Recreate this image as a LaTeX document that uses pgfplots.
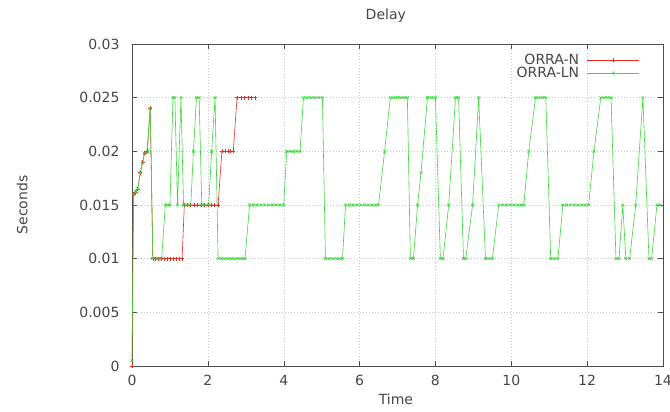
\documentclass[border=0pt]{standalone}
\usepackage{fontspec}
\setmainfont{DejaVu Sans}
\usepackage{pgfplots}
\pgfplotsset{compat=1.18}

\definecolor{orran}{RGB}{235,40,40}
\definecolor{orraln}{RGB}{60,215,60}
\definecolor{labelgray}{RGB}{70,70,70}

\begin{document}
\begin{tikzpicture}
\begin{axis}[
    width=531pt, height=322pt, scale only axis,
    xmin=0, xmax=14, ymin=0, ymax=0.03,
    xtick={0,2,4,6,8,10,12,14},
    ytick={0,0.005,0.01,0.015,0.02,0.025,0.03},
    scaled y ticks=false,
    yticklabel style={/pgf/number format/fixed, /pgf/number format/precision=3, xshift=-9pt},
    xticklabel style={yshift=-6pt},
    /pgf/number format/assume math mode=true,
    tick label style={font=\fontsize{14}{16}\selectfont, text=labelgray},
    label style={font=\fontsize{14}{16}\selectfont, text=labelgray},
    title style={font=\fontsize{14}{16}\selectfont, text=labelgray,
        at={(axis description cs:0.478,1)}, yshift=22pt, anchor=center},
    title={Delay},
    xlabel={Time},
    xlabel style={at={(axis description cs:0.497,0)}, yshift=-33pt, anchor=center},
    ylabel={Seconds},
    ylabel style={at={(axis description cs:-0.207,0.5)}, anchor=center},
    tick pos=both, tick align=inside, major tick length=5pt,
    axis line style={black!70},
    every tick/.style={black!70},
    grid=major,
    major grid style={black!22, dash pattern=on 1pt off 2pt},
    legend style={at={(1,1)}, anchor=north east, xshift=-20pt, yshift=-6pt,
        draw=none, fill=none, font=\fontsize{14}{16}\selectfont,
        row sep=-3pt, column sep=6pt},
    legend cell align=right,
    legend plot pos=right,
    legend image code/.code={\draw[mark repeat=2,mark phase=2] plot coordinates {(0pt,0pt) (26pt,0pt) (52pt,0pt)};},
]
\addplot[orran, line width=0.6pt, mark=+, mark size=2pt] coordinates {
    (0.00,0.0000) (0.04,0.0160) (0.10,0.0162) (0.15,0.0165) (0.22,0.0180)
    (0.28,0.0190) (0.33,0.0198) (0.40,0.0200) (0.48,0.0240) (0.55,0.0100)
    (0.62,0.0100) (0.70,0.0100) (0.78,0.0100) (0.86,0.0100) (0.94,0.0100)
    (1.02,0.0100) (1.10,0.0100) (1.18,0.0100) (1.26,0.0100) (1.32,0.0100)
    (1.38,0.0150) (1.46,0.0150) (1.55,0.0150) (1.64,0.0150) (1.73,0.0150)
    (1.82,0.0150) (1.91,0.0150) (2.00,0.0150) (2.09,0.0150) (2.18,0.0150)
    (2.27,0.0150) (2.37,0.0200) (2.45,0.0200) (2.53,0.0200) (2.60,0.0200)
    (2.67,0.0200) (2.77,0.0250) (2.87,0.0250) (2.97,0.0250) (3.06,0.0250)
    (3.15,0.0250) (3.25,0.0250)
};
\addlegendentry{\textcolor{labelgray}{ORRA-N}}
\addplot[orraln, line width=0.6pt, mark=x, mark size=2pt] coordinates {
    (0.00,0.0005) (0.04,0.0160) (0.10,0.0162) (0.15,0.0165) (0.22,0.0180)
    (0.28,0.0190) (0.33,0.0198) (0.40,0.0200) (0.48,0.0240) (0.55,0.0100)
    (0.62,0.0100) (0.70,0.0100) (0.78,0.0100) (0.88,0.0150) (0.95,0.0150)
    (1.00,0.0150) (1.08,0.0250) (1.13,0.0250) (1.20,0.0150) (1.29,0.0250)
    (1.36,0.0150) (1.45,0.0150) (1.55,0.0150) (1.62,0.0200) (1.70,0.0250)
    (1.77,0.0250) (1.84,0.0150) (1.92,0.0150) (2.02,0.0150) (2.10,0.0200)
    (2.19,0.0250) (2.27,0.0100) (2.36,0.0100) (2.45,0.0100) (2.54,0.0100)
    (2.63,0.0100) (2.72,0.0100) (2.81,0.0100) (2.90,0.0100) (2.98,0.0100)
    (3.10,0.0150) (3.20,0.0150) (3.30,0.0150) (3.40,0.0150) (3.50,0.0150)
    (3.60,0.0150) (3.70,0.0150) (3.80,0.0150) (3.90,0.0150) (4.00,0.0150)
    (4.08,0.0200) (4.17,0.0200) (4.26,0.0200) (4.35,0.0200) (4.43,0.0200)
    (4.52,0.0250) (4.62,0.0250) (4.72,0.0250) (4.82,0.0250) (4.92,0.0250)
    (5.02,0.0250) (5.10,0.0100) (5.20,0.0100) (5.30,0.0100) (5.40,0.0100)
    (5.48,0.0100) (5.55,0.0100) (5.63,0.0150) (5.73,0.0150) (5.83,0.0150)
    (5.93,0.0150) (6.03,0.0150) (6.13,0.0150) (6.23,0.0150) (6.33,0.0150)
    (6.42,0.0150) (6.50,0.0150) (6.66,0.0200) (6.81,0.0250) (6.90,0.0250)
    (7.00,0.0250) (7.09,0.0250) (7.18,0.0250) (7.26,0.0250) (7.34,0.0100)
    (7.42,0.0100) (7.53,0.0150) (7.62,0.0180) (7.79,0.0250) (7.90,0.0250)
    (8.00,0.0250) (8.13,0.0100) (8.20,0.0100) (8.35,0.0150) (8.53,0.0250)
    (8.61,0.0250) (8.74,0.0100) (8.80,0.0100) (8.98,0.0150) (9.14,0.0250)
    (9.32,0.0100) (9.41,0.0100) (9.50,0.0100) (9.67,0.0150) (9.77,0.0150)
    (9.87,0.0150) (9.97,0.0150) (10.07,0.0150) (10.17,0.0150) (10.26,0.0150)
    (10.33,0.0150) (10.46,0.0200) (10.64,0.0250) (10.73,0.0250) (10.82,0.0250)
    (10.91,0.0250) (11.04,0.0100) (11.13,0.0100) (11.23,0.0100) (11.36,0.0150)
    (11.46,0.0150) (11.56,0.0150) (11.66,0.0150) (11.76,0.0150) (11.86,0.0150)
    (11.95,0.0150) (12.04,0.0150) (12.18,0.0200) (12.36,0.0250) (12.45,0.0250)
    (12.54,0.0250) (12.63,0.0250) (12.76,0.0100) (12.84,0.0100) (12.94,0.0150)
    (13.02,0.0100) (13.12,0.0100) (13.28,0.0150) (13.47,0.0250) (13.63,0.0100)
    (13.70,0.0100) (13.84,0.0150) (13.92,0.0150)
};
\addlegendentry{\textcolor{labelgray}{ORRA-LN}}
\end{axis}
\pgfresetboundingbox
\path (current axis.south west) ++(-132pt,-46pt) rectangle ++(670pt,412pt);
\end{tikzpicture}
\end{document}
